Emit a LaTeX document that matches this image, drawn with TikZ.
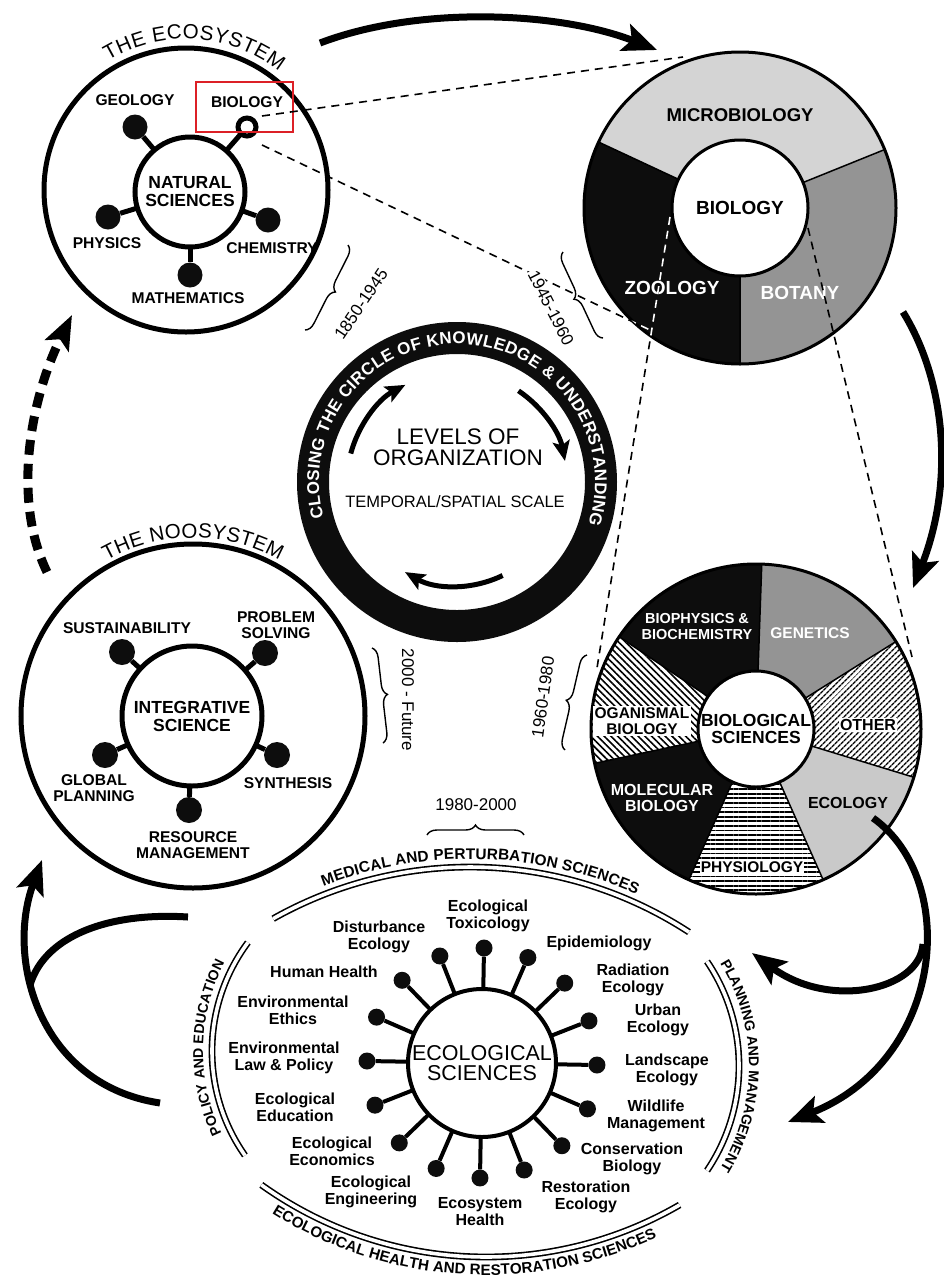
\documentclass[tikz,border=0pt]{standalone}
\usepackage{fontspec}
\setmainfont{Liberation Sans}
\usetikzlibrary{calc,arrows.meta,decorations.text,decorations.pathreplacing,patterns.meta}

\definecolor{paleGray}{gray}{0.83}
\definecolor{midGray}{gray}{0.58}
\definecolor{ecoGray}{gray}{0.79}
\definecolor{inkBlack}{gray}{0.05}
\definecolor{markRed}{RGB}{220,32,38}

\begin{document}
\begin{tikzpicture}[x=1pt,y=1pt,
  lab/.style={font=\bfseries\fontsize{15.6}{16}\selectfont, align=center, inner sep=0pt},
  hub/.style={circle, draw, fill=white, line width=5pt, inner sep=0pt, align=center,
              font=\bfseries\fontsize{17.5}{18}\selectfont},
  bigring/.style={circle, draw, line width=5pt, inner sep=0pt},
  ball/.style={circle, fill=inkBlack, inner sep=0pt, minimum size=25pt},
  sball/.style={circle, fill=inkBlack, inner sep=0pt, minimum size=17pt},
  spoke/.style={line width=5pt},
  sspoke/.style={line width=4pt},
  elab/.style={font=\bfseries\fontsize{16}{17}\selectfont, align=center, inner sep=0pt},
  plab/.style={font=\bfseries\fontsize{15.5}{16}\selectfont, align=center, inner sep=1pt},
  bigarrow/.style={line width=7pt, -{Stealth[length=34pt,width=28pt,inset=7pt]}},
  karrow/.style={line width=5pt, -{Stealth[length=20pt,width=17pt,inset=4pt]}},
  dashline/.style={line width=1.6pt, dash pattern=on 8pt off 6pt},
  dbl/.style={double, double distance=3.6pt, line width=1.6pt},
  brace/.style={decorate, decoration={brace, amplitude=10pt}, line width=1.4pt},
  period/.style={font=\fontsize{17}{17}\selectfont, inner sep=0pt},
]
\useasboundingbox (0,0) rectangle (944,-1286);
\fill[white] (0,0) rectangle (944,-1286);

%================ The ecosystem (natural sciences) ================
\coordinate (ecoc) at (186,-190);
\coordinate (nsc) at (190,-192);
\node[bigring, minimum size=284pt] (ecosys) at (ecoc) {};
\path[decorate, decoration={text along path, text align=fit to path,
   text={|\fontsize{20.5}{20.5}\selectfont|THE ECOSYSTEM}}]
   ($(ecoc)+(121:151)$) arc[start angle=121, end angle=52, radius=151];

\node[ball] (bGeo) at (135,-127) {};
\node[ball] (bPhy) at (108,-217) {};
\node[ball] (bChe) at (268,-220) {};
\node[ball] (bMat) at (190,-275) {};
\foreach \b in {bGeo,bPhy,bChe,bMat} \draw[spoke] (nsc) -- (\b);
\draw[spoke] (nsc) -- (247,-127);
\node[circle, draw, fill=white, line width=5pt, minimum size=18pt, inner sep=0pt] (bBio) at (247,-127) {};
\node[hub, minimum size=110pt] (natsci) at (nsc) {NATURAL\\SCIENCES};

\node[lab] (tGeo) at (135,-100) {GEOLOGY};
\node[lab] (tBio) at (247,-102) {BIOLOGY};
\node[lab] (tPhy) at (107,-243) {PHYSICS};
\node[lab] (tChe) at (272,-248) {CHEMISTRY};
\node[lab] (tMat) at (188,-298) {MATHEMATICS};
\node[draw=markRed, line width=2pt, minimum width=97pt, minimum height=50pt, inner sep=0pt] (hilite) at (244.5,-107) {};

%================ Biology pie ================
\coordinate (bpc) at (740,-208);
\fill[paleGray] (bpc) -- ++(22:156) arc[start angle=22, end angle=155, radius=156] -- cycle;
\fill[inkBlack] (bpc) -- ++(155:156) arc[start angle=155, end angle=270, radius=156] -- cycle;
\fill[midGray] (bpc) -- ++(270:156) arc[start angle=270, end angle=382, radius=156] -- cycle;
\draw[line width=1.5pt] (bpc) -- ++(22:156) (bpc) -- ++(155:156) (bpc) -- ++(270:156);
\node[circle, draw, line width=3pt, minimum size=312pt, inner sep=0pt] (biopie) at (bpc) {};
\node[circle, draw, fill=white, line width=3pt, minimum size=136pt, inner sep=0pt,
      font=\bfseries\fontsize{19}{19}\selectfont] (biohub) at (bpc) {BIOLOGY};
\node[font=\bfseries\fontsize{18.5}{19}\selectfont, inner sep=0pt] (tMicro) at (740,-115) {MICROBIOLOGY};
\node[font=\bfseries\fontsize{19}{19}\selectfont, text=white, inner sep=0pt] (tZoo) at (672,-288) {ZOOLOGY};
\node[font=\bfseries\fontsize{19}{19}\selectfont, text=white, inner sep=0pt] (tBot) at (800,-293) {BOTANY};

%================ Biological sciences pie ================
\coordinate (bsc) at (756,-729);
\fill[midGray] (bsc) -- ++(32:165) arc[start angle=32, end angle=88, radius=165] -- cycle;
\fill[inkBlack] (bsc) -- ++(88:165) arc[start angle=88, end angle=146, radius=165] -- cycle;
\fill[white] (bsc) -- ++(146:165) arc[start angle=146, end angle=192, radius=165] -- cycle;
\fill[pattern={Lines[angle=-45,distance=4.8pt,line width=1.6pt]}] (bsc) -- ++(146:165) arc[start angle=146, end angle=192, radius=165] -- cycle;
\fill[inkBlack] (bsc) -- ++(192:165) arc[start angle=192, end angle=246, radius=165] -- cycle;
\fill[white] (bsc) -- ++(246:165) arc[start angle=246, end angle=294, radius=165] -- cycle;
\fill[pattern={Lines[angle=0,distance=4.6pt,line width=1.8pt]}] (bsc) -- ++(246:165) arc[start angle=246, end angle=294, radius=165] -- cycle;
\fill[ecoGray] (bsc) -- ++(294:165) arc[start angle=294, end angle=343, radius=165] -- cycle;
\fill[white] (bsc) -- ++(343:165) arc[start angle=343, end angle=392, radius=165] -- cycle;
\fill[pattern={Lines[angle=45,distance=4pt,line width=1.6pt]}] (bsc) -- ++(343:165) arc[start angle=343, end angle=392, radius=165] -- cycle;
\foreach \a in {32,88,146,192,246,294,343} \draw[line width=1.5pt] (bsc) -- ++(\a:165);
\node[circle, draw, line width=3pt, minimum size=330pt, inner sep=0pt] (biosci) at (bsc) {};
\node[circle, draw, fill=white, line width=3pt, minimum size=116pt, inner sep=0pt, align=center,
      font=\bfseries\fontsize{17.5}{17}\selectfont] (bshub) at (bsc) {BIOLOGICAL\\SCIENCES};
\node[plab, text=white, font=\bfseries\fontsize{14.5}{16}\selectfont] (tBioph) at (697,-626) {BIOPHYSICS \&\\BIOCHEMISTRY};
\node[plab, text=white] (tGen) at (810,-633) {GENETICS};
\node[plab, fill=white, font=\bfseries\fontsize{16}{16}\selectfont] (tOth) at (868,-725) {OTHER};
\node[plab, fill=white, inner sep=1.5pt] (tOrg) at (642,-721) {OGANISMAL\\BIOLOGY};
\node[plab, text=white, font=\bfseries\fontsize{16}{16}\selectfont] (tMol) at (662,-798) {MOLECULAR\\BIOLOGY};
\node[plab, font=\bfseries\fontsize{16}{16}\selectfont] (tEco) at (848,-803) {ECOLOGY};
\node[plab, fill=white] (tPhys) at (752,-867) {PHYSIOLOGY};

%================ Dashed zoom lines ================
\coordinate (dA1) at (262,-116); \coordinate (dA2) at (683,-57);
\coordinate (dB1) at (262,-145); \coordinate (dB2) at (650,-330);
\coordinate (dC1) at (670,-217); \coordinate (dC2) at (597,-668);
\coordinate (dD1) at (808,-228); \coordinate (dD2) at (912,-657);
\draw[dashline] (dA1) -- (dA2);
\draw[dashline] (dB1) -- (dB2);
\draw[dashline] (dC1) -- (dC2);
\draw[dashline] (dD1) -- (dD2);
\begin{scope}
  \clip (bpc) -- ++(155:156) arc[start angle=155, end angle=270, radius=156] -- cycle;
  \draw[dashline, white] (dB1) -- (dB2);
  \draw[dashline, white] (dC1) -- (dC2);
\end{scope}

%================ Circle of knowledge ================
\coordinate (klc) at (457,-482);
\fill[inkBlack, even odd rule] (klc) circle[radius=160] (klc) circle[radius=128];
\node[circle, minimum size=256pt, inner sep=0pt] (klring) at (klc) {};
\path[decorate, decoration={text along path, text align=fit to path, text color=white,
   text={|\bfseries\fontsize{17}{17}\selectfont|CLOSING THE CIRCLE OF KNOWLEDGE {\&} UNDERSTANDING}}]
   ($(klc)+(195:138)$) arc[start angle=195, end angle=-18, radius=138];
\node[align=center, font=\fontsize{22.5}{21}\selectfont, inner sep=0pt] (tLev) at (458,-447) {LEVELS OF\\ORGANIZATION};
\node[font=\fontsize{16.5}{16.5}\selectfont, inner sep=0pt] (tScale) at (455,-502) {TEMPORAL/SPATIAL SCALE};
\draw[karrow] ($(klc)+(165:110)$) arc[start angle=165, end angle=118, radius=110];
\draw[karrow] ($(klc)+(56:110)$) arc[start angle=56, end angle=11, radius=110];
\draw[karrow] ($(klc)+(-64:104)$) arc[start angle=-64, end angle=-120, radius=104];

%================ The noosystem (integrative science) ================
\coordinate (nooc) at (193,-716);
\coordinate (isc) at (192,-716);
\node[bigring, minimum size=344pt] (noosys) at (nooc) {};
\path[decorate, decoration={text along path, text align=fit to path,
   text={|\fontsize{20.5}{20.5}\selectfont|THE NOOSYSTEM}}]
   ($(nooc)+(119:178)$) arc[start angle=119, end angle=61, radius=178];
\node[ball, minimum size=26pt] (bSus) at (122,-652) {};
\node[ball, minimum size=26pt] (bPro) at (265,-653) {};
\node[ball, minimum size=26pt] (bGlo) at (105,-755) {};
\node[ball, minimum size=26pt] (bSyn) at (277,-755) {};
\node[ball, minimum size=26pt] (bRes) at (189,-810) {};
\foreach \b in {bSus,bPro,bGlo,bSyn,bRes} \draw[spoke] (isc) -- (\b);
\node[hub, minimum size=140pt] (intsci) at (isc) {INTEGRATIVE\\SCIENCE};
\node[lab] (tSus) at (127,-628) {SUSTAINABILITY};
\node[lab] (tPro) at (276,-625) {PROBLEM\\SOLVING};
\node[lab] (tGlo) at (94,-788) {GLOBAL\\PLANNING};
\node[lab] (tSyn) at (288,-783) {SYNTHESIS};
\node[lab] (tRes) at (193,-845) {RESOURCE\\MANAGEMENT};

%================ Ecological sciences ================
\coordinate (esc) at (482,-1063);
\foreach \i in {0,...,15} {
  \pgfmathsetmacro\ang{89-22.5*\i}
  \node[sball] (eb\i) at ($(esc)+(\ang:115)$) {};
  \draw[sspoke] (esc) -- (eb\i);
}
\node[circle, draw, fill=white, line width=4pt, minimum size=148pt, inner sep=0pt, align=center,
      font=\fontsize{21.5}{20}\selectfont] (ecosci) at (esc) {ECOLOGICAL\\SCIENCES};

\node[elab] (e0) at (488,-916) {Ecological\\Toxicology};
\node[elab] (e1) at (599,-943) {Epidemiology};
\node[elab] (e2) at (633,-980) {Radiation\\Ecology};
\node[elab] (e3) at (658,-1020) {Urban\\Ecology};
\node[elab] (e4) at (667,-1070) {Landscape\\Ecology};
\node[elab] (e5) at (656,-1116) {Wildlife\\Management};
\node[elab] (e6) at (632,-1159) {Conservation\\Biology};
\node[elab] (e7) at (586,-1197) {Restoration\\Ecology};
\node[elab] (e8) at (480,-1212) {Ecosystem\\Health};
\node[elab] (e9) at (371,-1192) {Ecological\\Engineering};
\node[elab] (e10) at (332,-1151) {Ecological\\Economics};
\node[elab] (e11) at (295,-1107) {Ecological\\Education};
\node[elab] (e12) at (284,-1058) {Environmental\\Law \& Policy};
\node[elab] (e13) at (293,-1010) {Environmental\\Ethics};
\node[elab] (e14) at (324,-972) {Human Health};
\node[elab] (e15) at (379,-937) {Disturbance\\Ecology};

% surrounding double arcs and their titles
\coordinate (arcT) at (470,-1268);
\coordinate (arcL) at (394,-1051);
\coordinate (arcR) at (552,-1066);
\coordinate (arcB) at (486,-871);
\draw[dbl] ($(arcT)+(119.4:401)$) arc[start angle=119.4, end angle=56.9, radius=401];
\draw[dbl] ($(arcL)+(143.4:182)$) arc[start angle=143.4, end angle=215, radius=182];
\draw[dbl] ($(arcR)+(34:187)$) arc[start angle=34, end angle=-34, radius=187];
\draw[dbl] ($(arcB)+(234.4:386)$) arc[start angle=234.4, end angle=300.1, radius=386];
\path[decorate, decoration={text along path, text align=fit to path,
   text={|\bfseries\fontsize{15.4}{15.4}\selectfont|MEDICAL AND PERTURBATION SCIENCES}}]
   ($(arcT)+(111:409)$) arc[start angle=111, end angle=66, radius=409];
\path[decorate, decoration={text along path, text align=fit to path,
   text={|\bfseries\fontsize{14.2}{14.2}\selectfont|POLICY AND EDUCATION}}]
   ($(arcL)+(205.5:191)$) arc[start angle=205.5, end angle=152.5, radius=191];
\path[decorate, decoration={text along path, text align=fit to path,
   text={|\bfseries\fontsize{14.2}{14.2}\selectfont|PLANNING AND MANAGEMENT}}]
   ($(arcR)+(31.5:197)$) arc[start angle=31.5, end angle=-31.5, radius=197];
\path[decorate, decoration={text along path, text align=fit to path,
   text={|\bfseries\fontsize{15.2}{15.2}\selectfont|ECOLOGICAL HEALTH AND RESTORATION SCIENCES}}]
   ($(arcB)+(238:404)$) arc[start angle=238, end angle=295, radius=404];

%================ Period braces and labels ================
\coordinate (k1a) at (348,-245); \coordinate (k1b) at (305,-330);
\draw[brace] (k1a) -- (k1b);
\node[period, rotate=56] (y1) at (361,-304) {1850-1945};
\coordinate (k2a) at (603,-338); \coordinate (k2b) at (563,-252);
\draw[brace] (k2a) -- (k2b);
\node[period, rotate=-63, fill=white, inner sep=1.5pt] (y2) at (551,-308) {1945-1960};
\coordinate (k3a) at (565,-750); \coordinate (k3b) at (587,-655);
\draw[brace] (k3a) -- (k3b);
\node[period, rotate=82] (y3) at (543,-697) {1960-1980};
\coordinate (k4a) at (427,-835); \coordinate (k4b) at (524,-835);
\draw[brace] (k4a) -- (k4b);
\node[period] (y4) at (476,-805) {1980-2000};
\coordinate (k5a) at (372,-648); \coordinate (k5b) at (383,-743);
\draw[brace] (k5a) -- (k5b);
\node[period, rotate=-90] (y5) at (408,-700) {2000 - Future};

%================ Big arrows ================
\coordinate (aT0) at (320,-43); \coordinate (aT1) at (657,-50);
\draw[bigarrow] (aT0) .. controls (420,-5) and (560,-12) .. (aT1);
\coordinate (aR0) at (903,-312); \coordinate (aR1) at (913,-588);
\draw[bigarrow] (aR0) .. controls (945,-380) and (955,-480) .. (aR1);
\coordinate (aD0) at (47,-572); \coordinate (aD1) at (72,-315);
\draw[line width=9pt, dash pattern=on 15pt off 9pt, -{Stealth[length=34pt,width=26pt,inset=7pt]}]
   (aD0) .. controls (12,-500) and (30,-400) .. (aD1);
\coordinate (aE0) at (873,-818); \coordinate (aE1) at (788,-1122);
\coordinate (aE2) at (923,-944); \coordinate (aE3) at (752,-953);
\draw[bigarrow] (aE0) .. controls (960,-880) and (945,-1060) .. (aE1);
\draw[bigarrow] (aE2) .. controls (920,-990) and (830,-1010) .. (aE3);
\coordinate (aL0) at (160,-1103); \coordinate (aL1) at (42,-860);
\coordinate (aL2) at (188,-917); \coordinate (aL3) at (30,-985);
\draw[bigarrow] (aL0) .. controls (40,-1085) and (5,-960) .. (aL1);
\draw[line width=7pt] (aL2) .. controls (110,-912) and (45,-935) .. (aL3);

\end{tikzpicture}
\end{document}
